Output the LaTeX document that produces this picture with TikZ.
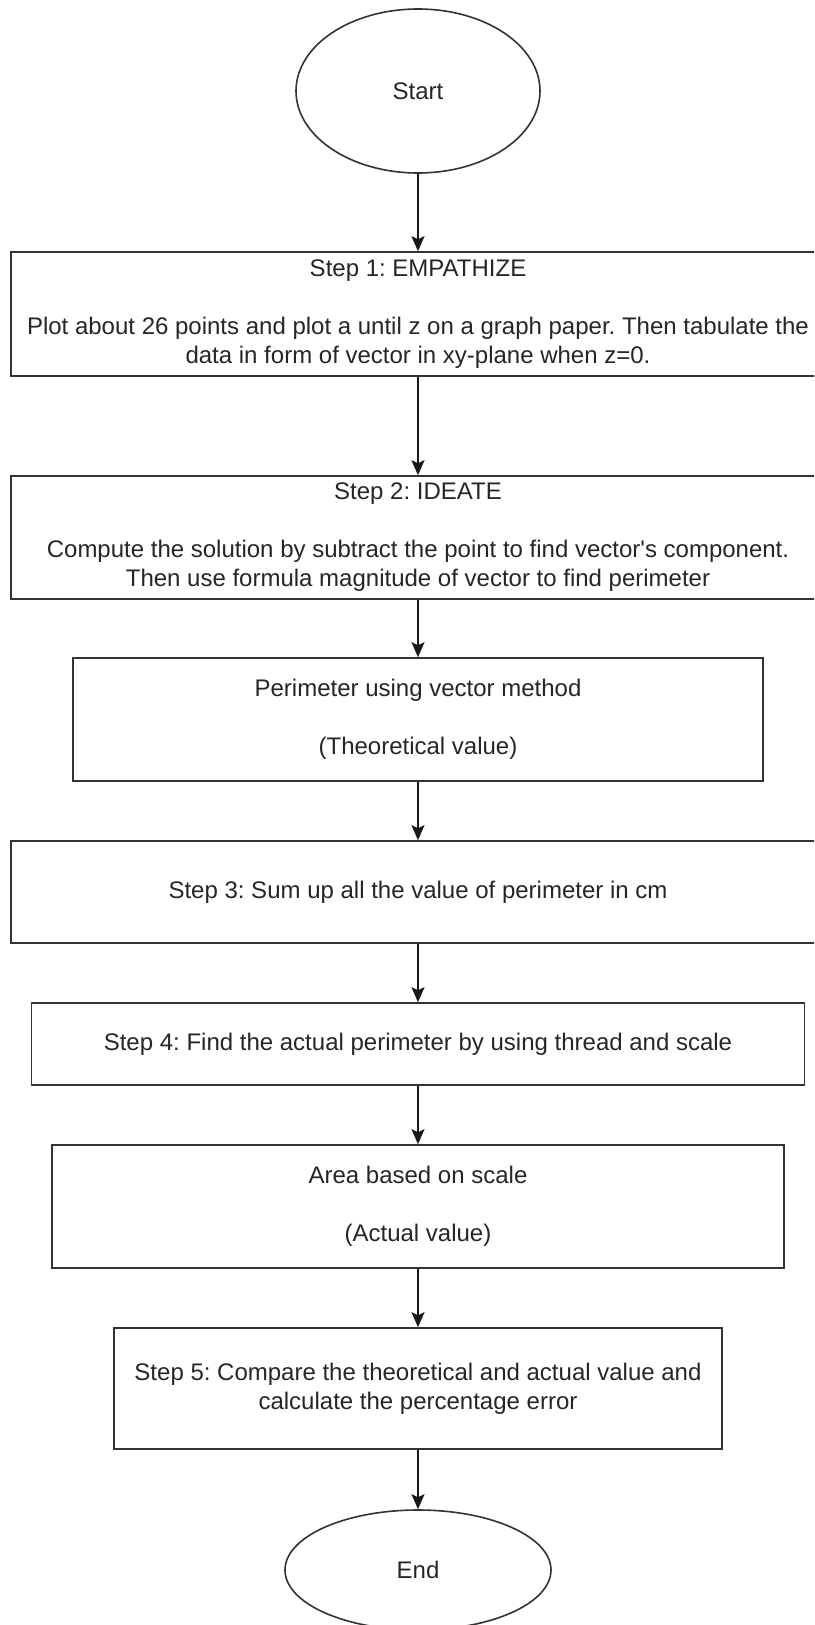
\documentclass[tikz,border=0pt]{standalone}
\usepackage{fontspec}
\setmainfont{Liberation Sans}
\usetikzlibrary{arrows.meta, shapes.geometric}
\frenchspacing
\tikzset{
flow box/.style = { rectangle, draw = black!80, line width = 1.6pt, fill = white, text = black!85, align = center, inner sep = 0pt, font = \fontsize{24}{29}\selectfont },
term/.style = { ellipse, draw = black!80, line width = 1.6pt, fill = white, text = black!85, inner sep = 0pt, font = \fontsize{24}{29}\selectfont },
flow/.style = { draw = black!90, line width = 1.6pt, -{Stealth[length = 15pt, width = 13pt, inset = 3pt]} },
}

\begin{document}
\begin{tikzpicture}[x = 1pt, y = -1pt]
    \clip (0, 0) rectangle (814, 1625);
    \fill[white] (0, 0) rectangle (814, 1625);
    \node[term, minimum width = 244pt, minimum height = 164pt] (start) at (418, 91) {Start};
    \node[flow box, minimum width = 814pt, minimum height = 124pt] (empathize) at (418, 314) {Step 1: EMPATHIZE\\[29pt]Plot about 26 points and plot a until z on a graph paper. Then tabulate the\\data in form of vector in xy-plane when z=0.};
    \node[flow box, minimum width = 814pt, minimum height = 123pt] (ideate) at (418, 537.5) {Step 2: IDEATE\\[29pt]Compute the solution by subtract the point to find vector\textquotesingle s component.\\Then use formula magnitude of vector to find perimeter};
    \node[flow box, minimum width = 690pt, minimum height = 123pt] (theory) at (418, 719.5) {Perimeter using vector method\\[29pt](Theoretical value)};
    \node[flow box, minimum width = 814pt, minimum height = 102pt] (sum) at (418, 892) {Step 3: Sum up all the value of perimeter in cm};
    \node[flow box, minimum width = 773pt, minimum height = 82pt] (thread) at (418, 1044) {Step 4: Find the actual perimeter by using thread and scale};
    \node[flow box, minimum width = 732pt, minimum height = 123pt] (actual) at (418, 1206.5) {Area based on scale\\[29pt](Actual value)};
    \node[flow box, minimum width = 608pt, minimum height = 121pt] (compare) at (418, 1388.5) {Step 5: Compare the theoretical and actual value and\\calculate the percentage error};
    \node[term, minimum width = 266pt, minimum height = 120pt] (end) at (418, 1570) {End};
    % connectors
    \draw[flow] (start) -- (empathize);
    \draw[flow] (empathize) -- (ideate);
    \draw[flow] (ideate) -- (theory);
    \draw[flow] (theory) -- (sum);
    \draw[flow] (sum) -- (thread);
    \draw[flow] (thread) -- (actual);
    \draw[flow] (actual) -- (compare);
    \draw[flow] (compare) -- (end);
  \end{tikzpicture}
\end{document}
